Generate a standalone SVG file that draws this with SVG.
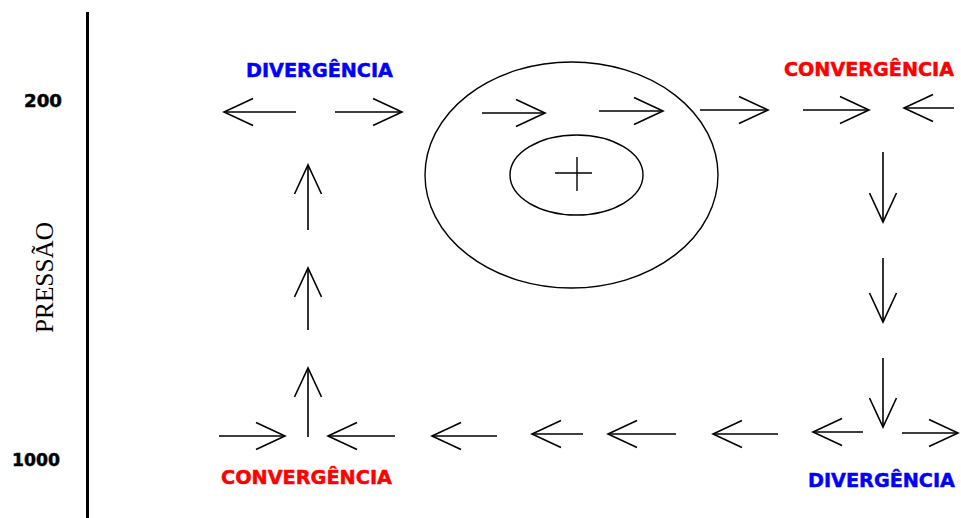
<svg xmlns="http://www.w3.org/2000/svg" width="961" height="518" viewBox="0 0 961 518">
<style>
.arr{stroke:#000;stroke-width:1.6;fill:none;marker-end:url(#ah)}
.shape{stroke:#000;stroke-width:1.4;fill:none}
.lbl{font-family:"DejaVu Sans",Verdana,sans-serif;font-weight:bold;font-size:19px;stroke-width:0.5px}
.blue{fill:#0000ff;stroke:#0000ff}
.red{fill:#ff0000;stroke:#ff0000}
.num{font-family:"DejaVu Sans",Verdana,sans-serif;font-weight:bold;font-size:18px;fill:#000;stroke:#000;stroke-width:0.5px}
</style>
<defs>
<marker id="ah" markerUnits="userSpaceOnUse" viewBox="0 0 40 40" markerWidth="40" markerHeight="40" refX="32" refY="20" orient="auto" overflow="visible">
<path d="M3,6.5 L32,20 L3,33.5" fill="none" stroke="#000" stroke-width="1.6"/>
</marker>
</defs>
<rect width="961" height="518" fill="#fff"/>
<g id="axis">
<line x1="87.5" y1="12" x2="87.5" y2="518" stroke="#000" stroke-width="3"/>
<text class="num" x="24" y="107" textLength="38" lengthAdjust="spacingAndGlyphs">200</text>
<text class="num" x="12" y="466" textLength="48" lengthAdjust="spacingAndGlyphs">1000</text>
<text x="0" y="0" transform="translate(53,333) rotate(-90)" font-family="'Liberation Serif','Times New Roman',serif" font-size="25" textLength="111" lengthAdjust="spacingAndGlyphs" fill="#000">PRESSÃO</text>
</g>
<g id="high">
<ellipse class="shape" cx="571.5" cy="175" rx="146.5" ry="113"/>
<ellipse class="shape" cx="576.5" cy="175" rx="66.5" ry="40"/>
<line class="shape" x1="555" y1="173" x2="592" y2="173"/>
<line class="shape" x1="577" y1="157" x2="577" y2="191"/>
</g>
<g id="div-top">
<text class="lbl blue" x="246" y="77" textLength="147" lengthAdjust="spacingAndGlyphs">DIVERGÊNCIA</text>
</g>
<g id="conv-top">
<text class="lbl red" x="784" y="76" textLength="170" lengthAdjust="spacingAndGlyphs">CONVERGÊNCIA</text>
</g>
<g id="conv-bottom">
<text class="lbl red" x="221" y="484" textLength="171" lengthAdjust="spacingAndGlyphs">CONVERGÊNCIA</text>
</g>
<g id="div-bottom">
<text class="lbl blue" x="808" y="487" textLength="147" lengthAdjust="spacingAndGlyphs">DIVERGÊNCIA</text>
</g>
<g id="connectors">
<line class="arr" x1="296" y1="112" x2="224" y2="112"/>
<line class="arr" x1="335" y1="112" x2="402" y2="112"/>
<line class="arr" x1="482" y1="113" x2="545" y2="113"/>
<line class="arr" x1="599" y1="111" x2="663" y2="111"/>
<line class="arr" x1="700" y1="110" x2="768" y2="110"/>
<line class="arr" x1="803" y1="110" x2="869" y2="110"/>
<line class="arr" x1="954" y1="108" x2="904" y2="108"/>
<line class="arr" x1="308" y1="230" x2="308" y2="165"/>
<line class="arr" x1="308" y1="330" x2="308" y2="268"/>
<line class="arr" x1="308" y1="437" x2="308" y2="368"/>
<line class="arr" x1="883" y1="152" x2="883" y2="222"/>
<line class="arr" x1="883" y1="258" x2="883" y2="322"/>
<line class="arr" x1="883" y1="358" x2="883" y2="427"/>
<line class="arr" x1="219" y1="436" x2="285" y2="436"/>
<line class="arr" x1="395" y1="436" x2="328" y2="436"/>
<line class="arr" x1="497" y1="436" x2="432" y2="436"/>
<line class="arr" x1="583" y1="434" x2="532" y2="434"/>
<line class="arr" x1="676" y1="434" x2="608" y2="434"/>
<line class="arr" x1="778" y1="434" x2="713" y2="434"/>
<line class="arr" x1="863" y1="432" x2="813" y2="432"/>
<line class="arr" x1="902" y1="433" x2="958" y2="433"/>
</g>
</svg>
